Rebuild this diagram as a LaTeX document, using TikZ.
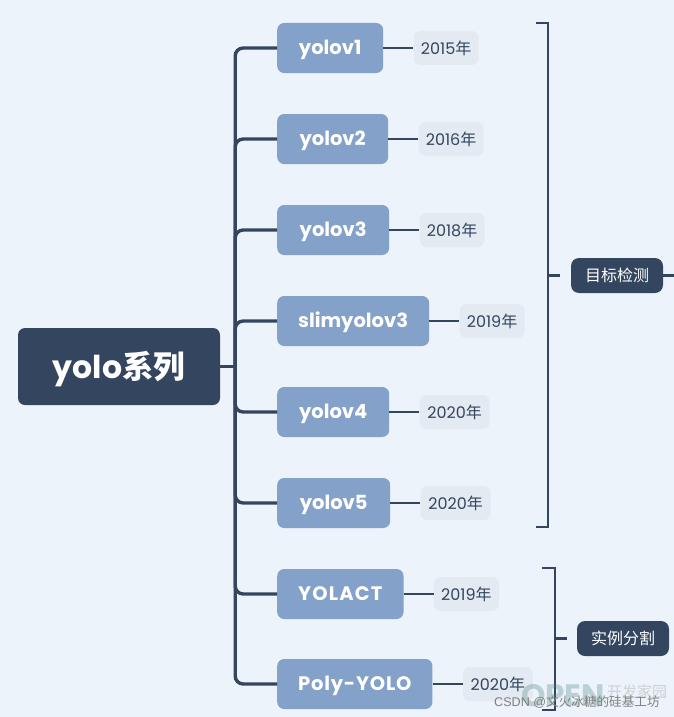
\documentclass[tikz,border=0pt]{standalone}
\usepackage{fontspec}
\usetikzlibrary{positioning,calc}
\setmainfont{Poppins}
\newfontfamily\cjk{Noto Sans CJK SC}
\newfontfamily\wmfont{Liberation Sans}
\definecolor{paper}{HTML}{ECF3FA}
\definecolor{navy}{HTML}{34465F}
\definecolor{steel}{HTML}{84A1C9}
\definecolor{mist}{HTML}{E4EAF2}

\begin{document}
\begin{tikzpicture} [
					x=1pt,y=-1pt,
					every node/.style={inner ysep=0,rounded corners=7pt},
					rootnode/.style={fill=navy,text=white,font=\bfseries\fontsize{31.5}{32}\selectfont,minimum height=77pt,minimum width=202pt,text height=26pt,text depth=3pt},
					modelnode/.style={fill=steel,text=white,font=\fontseries{b}\fontsize{19.5}{20}\selectfont,minimum height=50pt,inner xsep=21pt,text height=15pt,text depth=2pt},
					yearnode/.style={fill=mist,text=navy,font=\fontsize{16}{17}\selectfont,minimum height=34pt,inner xsep=7pt,text height=13.5pt,text depth=1pt},
					tasknode/.style={fill=navy,text=white,font=\cjk\fontsize{16}{17}\selectfont,minimum height=35pt,minimum width=92pt,inner xsep=0,rounded corners=8pt},
					trunk/.style={draw=navy,line width=3.4pt,rounded corners=8pt},
					twig/.style={draw=navy,line width=2.2pt},
					node distance=30pt,
				]
				\useasboundingbox[fill=paper] (0,0) rectangle (674,717);

				\node[rootnode] (root) at (119,366.5) {yolo{\cjk 系列}};

				\node[modelnode,anchor=west,minimum width=106pt] (v1) at (277,48) {yolov1};
				\node[modelnode,anchor=west,minimum width=111pt] (v2) at (277,139) {yolov2};
				\node[modelnode,anchor=west,minimum width=112pt] (v3) at (277,230) {yolov3};
				\node[modelnode,anchor=west] (slim) at (277,321) {slimyolov3};
				\node[modelnode,anchor=west,minimum width=112pt] (v4) at (277,412) {yolov4};
				\node[modelnode,anchor=west,minimum width=113pt] (v5) at (277,503) {yolov5};
				\node[modelnode,anchor=west] (yolact) at (277,594) {\addfontfeature{LetterSpace=6}YOLACT};
				\node[modelnode,anchor=west] (poly) at (277,684) {\addfontfeature{LetterSpace=4}Poly-YOLO};

				\node[yearnode,minimum width=65pt] (y1) [right=of v1] {2015{\cjk 年}};
				\node[yearnode,minimum width=65pt] (y2) [right=of v2] {2016{\cjk 年}};
				\node[yearnode,minimum width=65pt] (y3) [right=of v3] {2018{\cjk 年}};
				\node[yearnode,minimum width=65pt] (yslim) [right=of slim] {2019{\cjk 年}};
				\node[yearnode,minimum width=70pt] (y4) [right=of v4] {2020{\cjk 年}};
				\node[yearnode,minimum width=70pt] (y5) [right=of v5] {2020{\cjk 年}};
				\node[yearnode,minimum width=65pt] (yyolact) [right=of yolact] {2019{\cjk 年}};
				\node[yearnode,minimum width=70pt] (ypoly) [right=of poly] {2020{\cjk 年}};

				\node[tasknode] (detect) at (617,275.5) {目标检测};
				\node[tasknode] (segment) at (623,638.5) {实例分割};

				\coordinate (edge) at (674,275.5);
				\coordinate (detecttop) at (536,23);
				\coordinate (detectbot) at (536,527);
				\coordinate (segtop) at (542,568);
				\coordinate (segbot) at (542,710);

				% trunk from the root out to every model
				\draw[twig] (root.east) -- ++(15,0);
				\draw[trunk] (root.east) ++(15,0) |- (v1.west);
				\draw[trunk] (root.east) ++(15,0) |- (v2.west);
				\draw[trunk] (root.east) ++(15,0) |- (v3.west);
				\draw[trunk] (root.east) ++(15,0) |- (slim.west);
				\draw[trunk] (root.east) ++(15,0) |- (v4.west);
				\draw[trunk] (root.east) ++(15,0) |- (v5.west);
				\draw[trunk] (root.east) ++(15,0) |- (yolact.west);
				\draw[trunk] (root.east) ++(15,0) |- (poly.west);

				\draw[twig] (v1) to (y1);
				\draw[twig] (v2) to (y2);
				\draw[twig] (v3) to (y3);
				\draw[twig] (slim) to (yslim);
				\draw[twig] (v4) to (y4);
				\draw[twig] (v5) to (y5);
				\draw[twig] (yolact) to (yyolact);
				\draw[twig] (poly) to (ypoly);

				% brackets
				\draw[twig] (detecttop) -- ++(12,0) -- ($(detectbot)+(12,0)$) -- (detectbot);
				\draw[twig] ($(detect.west)+(-23,0)$) -- ($(detect.west)+(-11,0)$);
				\draw[twig] (detect.east) -- (edge);
				\draw[twig] (segtop) -- ++(13,0) -- ($(segbot)+(13,0)$) -- (segbot);
				\draw[twig] ($(segment.west)+(-22,0)$) -- ($(segment.west)+(-10,0)$);

				% site marks in the corner
				\node[anchor=west,inner sep=0,text=teal!45!gray,opacity=.3,font=\bfseries\fontsize{31}{32}\selectfont] (open) at (521,696) {OPEN};
				\node[anchor=west,inner sep=0,text=gray,opacity=.3,font=\cjk\fontsize{15}{16}\selectfont] (home) at (607,692) {开发家园};
				\node[anchor=west,inner sep=0,text=black!50,font=\wmfont\fontsize{12.6}{13}\selectfont] (mark) at (494,702) {CSDN @{\cjk 文火冰糖的硅基工坊}};
			\end{tikzpicture}
\end{document}
